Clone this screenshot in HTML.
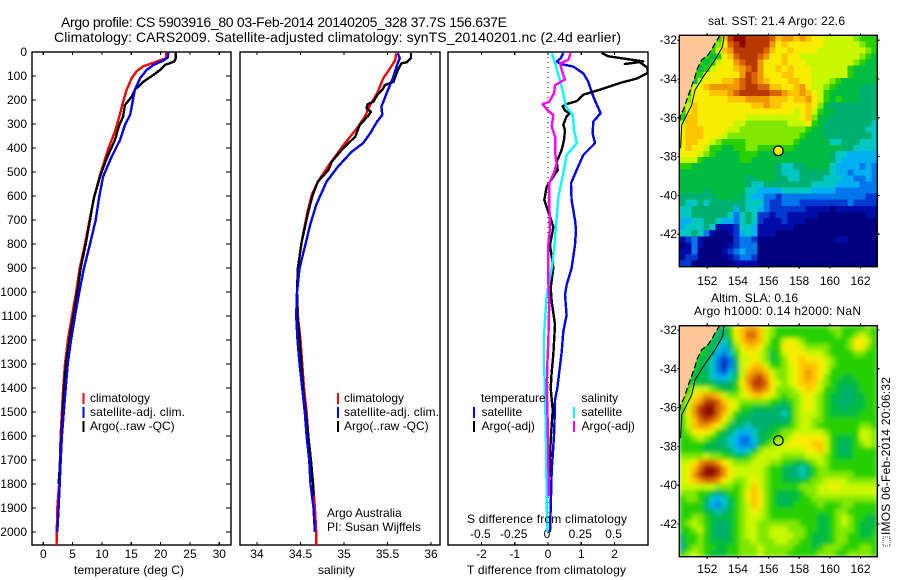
<!DOCTYPE html>
<html>
<head>
<meta charset="utf-8">
<title>Argo profile</title>
<style>
html,body{margin:0;padding:0;background:#fff;width:900px;height:580px;overflow:hidden}
svg{display:block}
text{font-family:"Liberation Sans",sans-serif;font-size:12px;fill:#000}
.title{font-size:14px}
.frame{fill:none;stroke:#000;stroke-width:1.4}
.tick{stroke:#000;stroke-width:1.2;shape-rendering:crispEdges}
.prof{fill:none;stroke-width:2.4;shape-rendering:crispEdges;stroke-linejoin:round}
</style>
</head>
<body>
<svg id="fig" xmlns="http://www.w3.org/2000/svg" width="900" height="580" viewBox="0 0 900 580">
<defs>
<clipPath id="clip-t"><rect x="32" y="52" width="199" height="493"/></clipPath>
<clipPath id="clip-s"><rect x="240" y="52" width="200" height="493"/></clipPath>
<clipPath id="clip-d"><rect x="448" y="52" width="200" height="493"/></clipPath>
<clipPath id="clip-m1"><rect x="679.3" y="35.3" width="198" height="231.4"/></clipPath>
<clipPath id="clip-m2"><rect x="679.3" y="325.7" width="198" height="231"/></clipPath>
<filter id="soft" x="-5%" y="-5%" width="110%" height="110%"><feGaussianBlur stdDeviation="2.2"/></filter>
</defs>
<text class="title" x="61" y="27" textLength="446">Argo profile: CS 5903916_80 03-Feb-2014 20140205_328 37.7S 156.637E</text>
<text class="title" x="54" y="42" textLength="567">Climatology: CARS2009. Satellite-adjusted climatology: synTS_20140201.nc (2.4d earlier)</text>

<g id="panel-t"></g>
<g id="panel-s"></g>
<g id="panel-d"></g>
<g id="map-sst"></g>
<g id="map-sla"></g>

<text x="74" y="574" textLength="110">temperature (deg C)</text>
<text x="318" y="574">salinity</text>
<text x="467" y="574" textLength="159">T difference from climatology</text>
<text x="467" y="523" textLength="160">S difference from climatology</text>

<g>
<rect x="82.5" y="393" width="2" height="11" fill="#f00"/>
<text x="90" y="402">climatology</text>
<rect x="82.5" y="407" width="2" height="11" fill="#00f"/>
<text x="90" y="416" textLength="95">satellite-adj. clim.</text>
<rect x="82.5" y="421" width="2" height="11" fill="#000"/>
<text x="90" y="430">Argo(..raw -QC)</text>
</g>
<g>
<rect x="337" y="393" width="2" height="11" fill="#f00"/>
<text x="344" y="402">climatology</text>
<rect x="337" y="407" width="2" height="11" fill="#00f"/>
<text x="344" y="416" textLength="95">satellite-adj. clim.</text>
<rect x="337" y="421" width="2" height="11" fill="#000"/>
<text x="344" y="430">Argo(..raw -QC)</text>
<text x="327" y="517">Argo Australia</text>
<text x="327" y="531">PI: Susan Wijffels</text>
</g>
<g>
<text x="481" y="402">temperature</text>
<rect x="473" y="407" width="2" height="11" fill="#00f"/>
<text x="481.5" y="416">satellite</text>
<rect x="473" y="421" width="2" height="11" fill="#000"/>
<text x="481.5" y="430">Argo(-adj)</text>
<text x="581.5" y="402">salinity</text>
<rect x="573" y="407" width="2" height="11" fill="#0ff"/>
<text x="581.5" y="416">satellite</text>
<rect x="573" y="421" width="2" height="11" fill="#f0f"/>
<text x="581.5" y="430">Argo(-adj)</text>
</g>

<text x="708" y="25" textLength="137">sat. SST: 21.4 Argo: 22.6</text>
<text x="711" y="302" textLength="87">Altim. SLA: 0.16</text>
<text x="694" y="315" textLength="167">Argo h1000: 0.14 h2000: NaN</text>
<text transform="translate(890,535) rotate(-90)" textLength="158">IMOS 06-Feb-2014 20:06:32</text>
<rect x="883" y="537" width="7" height="9" fill="none" stroke="#000" stroke-width="0.8" stroke-dasharray="1 1"/>
</svg>

<script>
// ---------- temperature profile data (depth in dbar, temperature in deg C) ----------
const tRedDepth = [0,26,40,60,81,109,158,207,269,332,402,513,603,700,800,900,1000,1100,1200,1300,1400,1500,1600,1700,1800,1900,2000,2054];
const tRedVal = [21.0,20.9,19.3,17.0,15.9,15.07,14.2,13.6,12.96,12.2,11.1,9.66,8.7,7.9,7.1,6.2,5.6,4.9,4.2,3.7,3.4,3.17,2.95,2.85,2.7,2.38,2.3,2.25];
const tBlueDepth = [0,23,36,54,75,109,158,214,262,304,367,436,519,609,700,800,900,1000,1100,1200,1300,1400,1500,1600,1700,1800,1900,2000];
const tBlueVal = [21.3,21.2,20.45,18.75,17.6,16.5,15.6,15.17,14.8,13.9,13.07,11.66,10.2,9.5,8.93,7.96,6.94,6.14,5.4,4.72,4.16,3.82,3.5,3.17,2.96,2.8,2.6,2.38];
const tBlackDepth = [0,26,40,54,72,96,124,158,186,221,269,304,367,443,519,609,700,800,900,1000,1100,1200,1300,1400,1500,1600,1700,1800];
const tBlackVal = [22.6,22.6,22.3,20.7,20.06,18.75,17.05,15.6,15.07,13.9,13.6,12.96,12.2,10.8,9.66,8.6,7.96,7.23,6.37,5.8,5.11,4.43,3.87,3.53,3.3,3.1,2.9,2.6];

// ---------- salinity profile data ----------
const sRedDepth = [5,33,68,110,172,221,269,318,380,464,540,596,665,797,900,1000,1100,1200,1300,1400,1500,1600,1700,1800,1900,2000,2054];
const sRedVal = [35.6,35.59,35.53,35.45,35.38,35.3,35.24,35.15,35.01,34.84,34.7,34.63,34.58,34.51,34.47,34.46,34.47,34.5,34.52,34.54,34.57,34.59,34.62,34.645,34.665,34.68,34.68];
const sBlueDepth = [5,26,54,110,172,228,262,290,339,380,415,478,540,637,721,797,900,1000,1100,1200,1300,1400,1500,1600,1700,1800,1900,2000];
const sBlueVal = [35.62,35.64,35.61,35.56,35.49,35.43,35.44,35.38,35.3,35.22,35.09,34.93,34.8,34.68,34.61,34.56,34.49,34.46,34.45,34.465,34.49,34.52,34.55,34.57,34.6,34.615,34.65,34.665];
const sBlackDepth = [5,26,43,47,75,103,124,138,158,179,207,218,235,249,265,304,353,401,457,492,540,596,665,797,900,1000,1100,1200,1300,1400,1500,1600,1700,1800,1850];
const sBlackVal = [35.77,35.77,35.72,35.66,35.62,35.59,35.57,35.47,35.44,35.38,35.34,35.27,35.26,35.31,35.28,35.18,35.13,34.99,34.86,34.82,34.7,34.64,34.59,34.51,34.47,34.46,34.465,34.49,34.51,34.53,34.56,34.59,34.62,34.645,34.65];

// ---------- difference data ----------
const dTSatDepth = [5,26,40,51,61,89,124,186,255,290,339,380,429,492,547,617,700,742,804,901,971,1012,1096,1165,1249,1332,1401,1450,1575,1645,1742,1853,1999];
const dTSatVal = [0.46,0.38,0.26,0.41,0.76,1.06,1.21,1.36,1.58,1.36,1.34,1.41,1.06,0.86,0.69,0.71,0.81,0.84,0.81,0.71,0.56,0.51,0.56,0.46,0.41,0.34,0.28,0.21,0.19,0.16,0.11,0.09,0.06];
const dTArgoDepth = [4,18,39,50,42,64,87,111,129,157,178,205,217,226,245,254,268,304,325,367,408,457,492,561,617,665,728,754,804,900,983,1040,1137,1262,1332,1400,1492,1617,1770];
const dTArgoVal = [1.61,1.81,2.86,2.31,2.75,2.98,3.0,2.66,2.16,1.56,1.06,0.86,0.56,0.44,0.51,0.66,0.56,0.46,0.51,0.48,0.41,0.26,0.29,-0.04,-0.11,0.01,0.16,0.13,0.06,0.16,0.08,0.11,0.21,0.16,0.11,0.08,0.14,0.08,0.04];
const dSSatDepth = [5,47,144,228,262,325,380,429,505,603,737,816,900,1012,1124,1193,1304,1400,1435,1546,1853,1999];
const dSSatVal = [0.028,0.053,0.103,0.135,0.186,0.195,0.216,0.14,0.115,0.077,0.058,0.047,0.028,-0.01,-0.023,-0.03,-0.03,-0.023,-0.023,-0.017,-0.01,-0.005];
const dSArgoDepth = [5,33,47,89,114,138,172,207,217,239,262,311,353,422,464,499,547,630,737,804,957,1040,1207,1304,1400,1546,1853];
const dSArgoVal = [0.17,0.153,0.09,0.11,0.128,0.053,0.045,0.01,-0.04,-0.01,0.04,0.028,0.053,0.053,0.065,0.047,0.01,0.01,0.015,0.002,0.002,0.01,0.002,-0.005,-0.01,-0.002,0.007];

// ---------- tick labels ----------
const depthTicks = [0,100,200,300,400,500,600,700,800,900,1000,1100,1200,1300,1400,1500,1600,1700,1800,1900,2000];
const tempTicks = [0,5,10,15,20,25,30];
const salTicks = [34,34.5,35,35.5,36];
const dTTicks = [-2,-1,0,1,2];
const dSTicks = [-0.5,-0.25,0,0.25,0.5];
const dSTickLabels = ["-0.5","-0.25","0","0.25","0.5"];
const lonTicks = [152,154,156,158,160,162];
const latTicks = [32,34,36,38,40,42];

// ---------- map data: colour level per cell, rows north to south ----------
const palette = ["#000080","#000ca8","#0038d0","#0078ec","#00b0f0","#00c8c0","#00b070","#00bc40","#28d000","#80e800","#c8f800","#f8ec00","#ffc400","#f09800","#d86400","#b83800","#900800"];
const sstGrid = [
[8,8,8,8,8,8,8,12,15,16,16,15,15,15,15,14,12,13,13,12,13,12,11,11,10,10,10,10,10,9,8,8,8],
[8,8,8,8,8,8,9,11,14,15,16,15,15,15,15,13,11,12,11,11,11,11,11,11,10,10,10,10,10,10,9,8,8],
[8,8,8,8,8,8,10,12,13,15,15,15,15,15,14,12,11,11,12,11,11,11,11,10,10,10,10,10,10,10,10,9,8],
[8,8,8,8,8,7,8,11,12,14,15,15,15,14,13,11,11,12,11,11,10,10,10,10,10,10,10,10,10,10,9,8,7],
[8,8,8,8,7,8,10,11,11,13,14,15,15,13,11,11,11,12,11,11,11,10,10,10,10,10,10,10,10,9,8,7,7],
[8,8,8,7,8,10,11,11,11,12,13,14,15,13,11,11,12,11,12,11,11,11,10,10,10,10,10,10,8,7,7,7,7],
[8,8,8,8,11,11,11,11,11,11,13,15,14,13,11,11,11,12,12,11,11,11,10,10,10,10,10,10,8,7,7,7,7],
[8,8,7,10,11,11,11,12,12,13,14,15,14,13,12,11,11,11,12,12,11,11,10,10,10,9,8,7,7,7,7,7,7],
[8,7,10,11,12,13,13,13,13,13,14,15,15,14,14,12,12,11,11,12,13,11,10,10,9,8,7,7,7,7,6,6,6],
[8,8,11,11,11,12,12,12,13,14,15,15,15,15,15,14,14,13,12,12,13,12,11,10,8,7,7,7,7,7,6,6,6],
[8,9,11,11,11,11,11,11,12,12,12,13,13,13,13,12,12,12,11,12,12,13,11,10,8,7,8,7,7,7,6,6,6],
[8,10,12,11,11,11,11,11,11,11,11,11,12,12,13,12,12,11,11,11,11,12,11,9,7,6,6,6,6,6,6,6,6],
[8,11,12,11,11,11,11,11,11,11,11,11,11,11,11,11,11,11,11,10,11,12,10,8,7,7,6,6,6,6,6,6,6],
[8,12,12,11,11,11,11,11,11,11,11,10,10,10,10,10,10,10,10,10,11,12,9,7,7,6,6,6,6,6,6,6,6],
[10,12,12,11,11,11,11,11,11,10,10,9,9,9,9,9,9,9,10,10,10,11,8,7,6,6,6,6,6,6,6,6,5],
[11,12,12,12,11,11,11,11,10,10,9,9,9,9,9,9,9,9,9,9,9,8,7,7,6,6,6,6,6,6,6,5,5],
[11,12,12,12,11,11,11,10,9,9,9,9,9,9,9,9,9,9,9,9,8,7,7,7,6,6,6,6,6,6,6,6,5],
[11,12,12,11,11,10,9,8,8,8,8,9,9,9,9,9,9,9,9,8,7,7,7,7,7,5,5,6,6,6,5,5,5],
[11,12,11,11,10,8,8,7,7,8,8,9,9,8,8,8,8,8,8,7,7,7,7,7,7,7,7,6,6,5,5,5,5],
[11,11,11,10,9,8,7,7,7,7,8,8,8,7,7,7,7,7,7,7,7,7,7,7,7,6,5,5,4,4,4,4,4],
[10,10,10,8,7,7,7,7,7,7,8,8,7,7,7,7,7,7,7,7,7,7,7,7,7,6,5,4,4,4,4,4,4],
[8,8,7,7,7,7,7,7,7,7,7,7,7,7,7,7,6,5,5,6,6,7,7,7,7,5,4,4,4,4,3,4,3],
[7,7,7,7,7,7,7,7,7,7,7,7,7,7,7,7,6,5,5,5,6,6,6,6,6,5,4,4,3,4,4,4,3],
[7,7,7,7,7,7,7,7,7,7,7,6,6,7,7,7,6,6,5,5,6,6,6,6,5,5,5,4,4,3,3,4,3],
[7,7,7,7,7,7,7,7,7,7,7,6,5,5,6,6,6,6,6,6,6,6,5,5,5,5,4,4,4,4,3,3,3],
[7,7,7,7,6,7,7,7,7,7,7,5,5,4,4,4,4,5,5,5,5,5,4,4,4,4,3,3,3,3,3,3,3],
[6,6,6,6,6,6,7,7,7,7,6,5,4,4,3,3,2,3,3,3,3,3,3,3,3,3,3,3,3,3,3,2,2],
[6,5,5,6,5,6,6,6,6,6,6,5,5,5,3,2,2,3,3,3,2,2,2,2,2,2,2,2,3,2,2,2,2],
[5,5,6,6,6,6,6,6,6,4,6,5,5,4,3,2,2,2,2,2,2,1,1,1,1,0,1,1,1,1,1,1,1],
[5,5,6,6,6,6,6,6,5,3,5,6,5,2,2,1,2,2,1,1,1,1,1,0,0,0,0,0,0,0,0,1,1],
[4,4,5,5,6,6,5,4,4,3,5,6,5,2,1,1,1,2,1,1,1,0,0,0,0,0,0,0,0,0,0,0,0],
[4,5,5,5,6,5,1,1,1,2,5,5,4,1,1,1,1,1,1,0,0,0,0,0,0,0,0,0,0,0,0,0,0],
[5,5,6,5,3,1,0,0,1,2,4,5,4,1,1,1,0,0,0,0,0,0,0,0,0,0,0,0,0,0,0,0,0],
[1,2,3,1,0,0,0,0,0,2,3,3,2,0,0,0,0,0,0,0,0,0,0,0,0,0,1,1,0,0,0,0,0],
[0,1,3,1,0,0,0,0,1,2,3,3,3,0,0,0,0,0,0,0,0,0,0,0,0,0,0,0,0,0,0,0,0],
[1,1,3,0,0,0,0,1,2,3,4,3,3,0,0,0,0,0,0,0,0,0,0,0,0,0,0,0,0,0,0,0,0],
[1,2,2,0,0,0,0,0,1,2,3,3,2,0,0,0,0,0,0,0,0,0,0,0,0,0,0,0,0,0,0,0,0],
[2,2,0,0,0,0,0,0,0,1,1,1,1,0,0,0,0,0,0,0,0,0,0,0,0,0,0,0,0,0,0,0,0]
];
const slaGrid = [
[8,8,8,8,8,8,7,6,8,11,12,13,13,12,10,9,8,8,8,8,8,8,8,8,8,9,9,8,8,8,8,9,8],
[8,8,8,8,8,8,6,6,8,11,12,14,14,12,10,9,8,8,8,8,8,8,8,8,8,8,9,8,8,9,10,9,8],
[8,8,8,8,8,7,6,5,7,10,12,13,13,12,10,8,8,10,11,10,9,8,8,8,8,8,8,8,9,11,11,10,8],
[8,8,8,8,7,7,5,4,6,9,11,12,12,11,9,8,8,11,11,11,10,9,9,9,9,8,8,8,9,11,11,9,8],
[8,8,8,8,7,6,4,3,5,8,10,11,11,10,9,7,8,10,11,11,11,10,10,10,9,8,8,8,8,9,9,8,8],
[8,8,8,7,7,5,3,2,3,7,10,10,11,10,9,7,8,9,11,11,12,11,11,11,10,9,8,8,8,8,8,8,8],
[8,8,8,7,6,5,3,1,3,6,10,11,12,12,10,8,8,9,10,11,12,12,12,11,10,9,8,8,8,8,8,8,8],
[8,8,7,7,6,5,3,2,4,6,10,12,13,13,12,10,9,9,10,11,12,13,12,11,10,8,8,8,8,8,8,8,8],
[8,7,7,7,7,5,4,4,5,7,10,13,14,15,13,11,9,9,10,11,12,13,12,11,9,8,8,7,7,8,8,8,8],
[8,8,7,7,7,7,6,6,6,8,11,13,15,15,14,11,10,9,10,11,12,12,12,10,9,8,7,7,7,7,8,8,8],
[8,8,10,10,10,9,8,7,7,8,10,12,14,14,13,11,9,9,9,10,11,12,11,10,8,8,7,6,6,7,8,8,8],
[8,9,11,12,13,13,12,10,9,9,10,11,12,12,11,10,9,8,9,9,10,11,10,9,8,7,7,6,6,7,7,8,8],
[8,10,12,13,15,15,14,12,11,10,9,9,9,9,9,8,8,7,8,9,10,11,10,9,8,7,6,6,6,7,7,8,8],
[8,10,13,15,16,16,14,13,11,10,8,8,7,7,7,7,6,6,7,9,10,11,10,9,8,7,7,6,7,7,7,8,8],
[8,11,13,15,16,16,14,12,10,8,7,7,6,6,6,6,6,5,7,9,10,10,10,9,8,7,7,7,7,7,8,8,8],
[8,10,12,14,15,14,13,11,9,7,7,6,6,6,6,6,6,6,7,9,10,10,9,9,8,8,8,8,8,8,8,8,8],
[8,10,12,13,13,12,11,9,7,6,6,5,6,6,6,7,7,7,8,9,10,10,9,8,8,8,8,8,8,8,9,9,8],
[8,9,11,11,11,10,8,7,6,5,4,4,5,6,7,7,8,9,9,10,10,10,10,10,9,8,8,8,8,8,10,10,9],
[8,8,9,10,9,8,7,6,5,4,3,3,5,6,7,8,9,9,10,11,11,11,11,11,10,8,7,7,7,8,10,10,9],
[8,8,8,8,7,7,6,6,5,4,3,3,4,7,8,9,10,10,11,11,11,11,12,12,10,8,7,6,7,8,9,10,9],
[8,8,8,8,7,7,7,7,6,5,4,5,7,9,10,10,10,10,10,10,10,11,11,12,10,8,7,6,7,8,8,8,8],
[9,9,9,9,10,9,9,8,8,7,7,8,9,10,10,10,10,9,9,9,9,10,10,10,9,8,7,7,7,8,8,8,8],
[10,10,11,13,14,14,13,11,10,9,9,9,10,10,10,9,9,8,8,7,7,8,9,10,9,8,8,8,8,8,8,8,8],
[10,11,12,14,16,16,15,13,11,10,10,10,10,10,9,8,8,7,6,6,5,6,8,9,9,8,8,8,8,8,8,8,8],
[10,11,13,15,16,16,15,13,11,10,10,10,10,10,9,8,8,7,6,6,5,6,8,9,9,9,9,9,9,8,8,8,8],
[10,11,12,13,14,14,13,11,10,9,9,10,11,10,9,8,8,7,7,7,7,8,9,9,10,10,10,10,9,9,9,9,9],
[10,10,10,10,10,10,9,9,9,8,9,10,12,10,9,8,8,8,8,8,9,9,9,10,10,11,11,10,10,10,10,10,10],
[9,9,9,8,8,7,6,7,8,8,9,11,12,11,9,8,7,7,7,7,8,9,9,10,10,10,10,10,10,10,10,10,10],
[8,9,9,8,7,5,4,5,7,8,9,11,12,11,9,8,7,6,7,7,8,8,9,9,9,9,9,9,9,9,9,9,9],
[8,8,8,8,6,4,3,5,6,8,9,10,12,11,9,8,7,7,7,8,8,8,8,9,8,8,8,9,9,8,8,8,8],
[8,8,8,8,7,6,5,6,7,8,9,10,11,10,9,8,8,8,8,8,8,8,8,8,8,8,9,9,8,8,8,8,8],
[8,8,9,9,8,7,7,7,7,8,9,10,10,10,9,8,8,8,8,8,8,8,8,7,7,8,9,10,9,8,8,7,7],
[8,9,10,9,8,7,6,6,7,8,9,10,10,9,9,9,9,9,9,9,8,8,8,7,7,8,9,10,9,8,7,7,7],
[8,8,9,10,8,7,6,6,7,8,9,10,10,9,9,10,10,10,9,9,9,8,8,7,7,8,9,9,9,8,7,7,7],
[7,8,8,9,8,7,6,6,7,8,9,10,10,9,9,10,10,10,10,9,9,8,7,7,7,8,9,9,8,8,7,7,8],
[6,8,8,9,8,7,7,7,7,8,9,9,10,9,9,9,10,10,9,9,8,8,7,7,7,8,9,9,8,8,8,8,8],
[6,8,9,9,8,8,7,7,8,8,9,9,9,10,9,9,9,9,9,8,8,8,7,8,9,9,9,8,8,8,9,9,8],
[8,9,10,9,8,7,7,7,8,8,9,9,9,10,9,9,9,9,8,8,8,8,8,9,9,9,8,8,9,9,9,9,8]
];
const coastLon = [152.83,152.5,152.39,152.07,151.63,151.31,151.2,150.92,150.69,150.48,150.26,150.17];
const coastLat = [31.75,32.16,32.33,32.73,33.02,33.54,33.88,34.48,35.0,35.51,35.86,36.28];
const isoLon = [153.09,153.0,152.5,151.74,151.2,150.98,150.33,150.26];
const isoLat = [31.75,32.33,33.02,33.88,34.57,35.34,36.37,37.57];
const floatLon = [156.637];
const floatLat = [37.7];

// ---------- helpers and axis functions ----------
const NS = "http://www.w3.org/2000/svg";
function mk(parent, tag, attrs, txt) {
  const e = document.createElementNS(NS, tag);
  for (const k in attrs) e.setAttribute(k, attrs[k]);
  if (txt !== undefined) e.textContent = txt;
  parent.appendChild(e);
  return e;
}
const yDepth = d => 52 + 0.24 * d;
const xTemp = t => 43.3 + 5.867 * t;
const xSal = s => 257 + 87 * (s - 34);
const xDT = t => 548 + 33.3 * t;
const xDS = s => 548 + 133.2 * s;
const lonX = l => 707.3 + 15.32 * (l - 152);
const TOP = 52, BOT = 545;

function frame(g, x, y, w, h) {
  const r = mk(g, "rect", {class: "frame", x: x, y: y, width: w, height: h});
  
  
}
function xTicks(g, vals, labels, sx, baseline) {
  vals.forEach((v, i) => {
    const px = sx(v);
    const a = mk(g, "line", {class: "tick", x1: px, x2: px, y1: TOP, y2: TOP + 3});
    
    
    const b = mk(g, "line", {class: "tick", x1: px, x2: px, y1: BOT - 3, y2: BOT});
    
    
    const t = mk(g, "text", {x: px, y: baseline, "text-anchor": "middle"}, labels[i]);
    
    
  });
}
function series(g, clip, depth, vals, sx, color, name) {
  const pts = depth.map((d, i) => sx(vals[i]).toFixed(1) + "," + yDepth(d).toFixed(1)).join(" ");
  const p = mk(g, "polyline", {class: "prof", points: pts, stroke: color, "clip-path": "url(#" + clip + ")"});
  
  
}

// temperature panel
const gT = document.getElementById("panel-t");
frame(gT, 32, 52, 199, 493);
xTicks(gT, tempTicks, tempTicks.map(String), xTemp, 558);
depthTicks.forEach(d => {
  const py = yDepth(d);
  const l = mk(gT, "line", {class: "tick", x1: 32, x2: 36, y1: py, y2: py});
  
  
  const r = mk(gT, "line", {class: "tick", x1: 226, x2: 231, y1: py, y2: py});
  
  
  const t = mk(gT, "text", {x: 27, y: py + 4, "text-anchor": "end"}, String(d));
  
  
});
series(gT, "clip-t", tRedDepth, tRedVal, xTemp, "#f00", "temperature-climatology-line");
series(gT, "clip-t", tBlackDepth, tBlackVal, xTemp, "#000", "temperature-argo-line");
series(gT, "clip-t", tBlueDepth, tBlueVal, xTemp, "#00f", "temperature-satellite-line");

// salinity panel
const gS = document.getElementById("panel-s");
frame(gS, 240, 52, 200, 493);
xTicks(gS, salTicks, salTicks.map(String), xSal, 558);
series(gS, "clip-s", sRedDepth, sRedVal, xSal, "#f00", "salinity-climatology-line");
series(gS, "clip-s", sBlackDepth, sBlackVal, xSal, "#000", "salinity-argo-line");
series(gS, "clip-s", sBlueDepth, sBlueVal, xSal, "#00f", "salinity-satellite-line");

// difference panel
const gD = document.getElementById("panel-d");
frame(gD, 448, 52, 200, 493);
xTicks(gD, dTTicks, dTTicks.map(String), xDT, 558);
const zeroLine = mk(gD, "line", {x1: xDT(0), x2: xDT(0), y1: TOP, y2: BOT, stroke: "#000", "stroke-width": 1, "stroke-dasharray": "1 4"});


dSTicks.forEach((v, i) => {
  const t = mk(gD, "text", {x: xDS(v) - 1, y: 538, "text-anchor": "middle"}, dSTickLabels[i]);
  
  
});
series(gD, "clip-d", dTSatDepth, dTSatVal, xDT, "#00f", "t-diff-satellite-line");
series(gD, "clip-d", dTArgoDepth, dTArgoVal, xDT, "#000", "t-diff-argo-line");
series(gD, "clip-d", dSSatDepth, dSSatVal, xDS, "#0ff", "s-diff-satellite-line");
series(gD, "clip-d", dSArgoDepth, dSArgoVal, xDS, "#f0f", "s-diff-argo-line");

// maps
function drawMap(g, grid, top, height, lat32, clip, blur, markerFill, baseline, cellName) {
  const left = 679.3, width = 198;
  const latY = l => lat32 + 19.4 * (l - 32);
  const holder = mk(g, "g", {"clip-path": "url(#" + clip + ")"});
  
  
  const cells = mk(holder, "g", blur ? {filter: "url(#soft)"} : {"shape-rendering": "crispEdges"});
  
  
  const nr = grid.length, nc = grid[0].length;
  const cw = width / nc, ch = height / nr;
  grid.forEach((row, r) => row.forEach((v, c) => {
    const cell = mk(cells, "rect", {x: left + c * cw, y: top + r * ch, width: cw + 0.4, height: ch + 0.4, fill: palette[v]});
    
    
  }));
  const landPts = coastLon.map((l, i) => lonX(l).toFixed(1) + "," + latY(coastLat[i]).toFixed(1));
  landPts.push(left + "," + top);
  const land = mk(holder, "polygon", {points: landPts.join(" "), fill: "#ffc896"});
  
  
  const coast = mk(holder, "polyline", {points: coastLon.map((l, i) => lonX(l).toFixed(1) + "," + latY(coastLat[i]).toFixed(1)).join(" "), fill: "none", stroke: "#000", "stroke-width": 1.2, "stroke-dasharray": "6 3"});
  
  
  const iso = mk(holder, "polyline", {points: isoLon.map((l, i) => lonX(l).toFixed(1) + "," + latY(isoLat[i]).toFixed(1)).join(" "), fill: "none", stroke: "#000", "stroke-width": 1});
  
  
  const marker = mk(g, "circle", {cx: lonX(floatLon[0]), cy: latY(floatLat[0]), r: 4.8, fill: markerFill, stroke: "#000", "stroke-width": 1.2});
  
  
  const fr = mk(g, "rect", {class: "frame", x: left, y: top, width: width, height: height});
  
  
  lonTicks.forEach(l => {
    const px = lonX(l);
    const a = mk(g, "line", {class: "tick", x1: px, x2: px, y1: top - 2, y2: top});
    
    
    const b = mk(g, "line", {class: "tick", x1: px, x2: px, y1: top + height, y2: top + height + 2});
    
    
    const t = mk(g, "text", {x: px, y: baseline, "text-anchor": "middle"}, String(l));
    
    
  });
  latTicks.forEach(l => {
    const py = latY(l);
    const a = mk(g, "line", {class: "tick", x1: left - 2, x2: left, y1: py, y2: py});
    
    
    const b = mk(g, "line", {class: "tick", x1: left + width, x2: left + width + 2, y1: py, y2: py});
    
    
    const t = mk(g, "text", {x: 677, y: py + 4, "text-anchor": "end"}, "-" + l);
    
    
  });
}
drawMap(document.getElementById("map-sst"), sstGrid, 35.3, 231.4, 40.2, "clip-m1", false, "#f8ec00", 285, "sst-cell");
drawMap(document.getElementById("map-sla"), slaGrid, 325.7, 231, 330, "clip-m2", true, "none", 573, "sla-cell");
</script>
</body>
</html>
